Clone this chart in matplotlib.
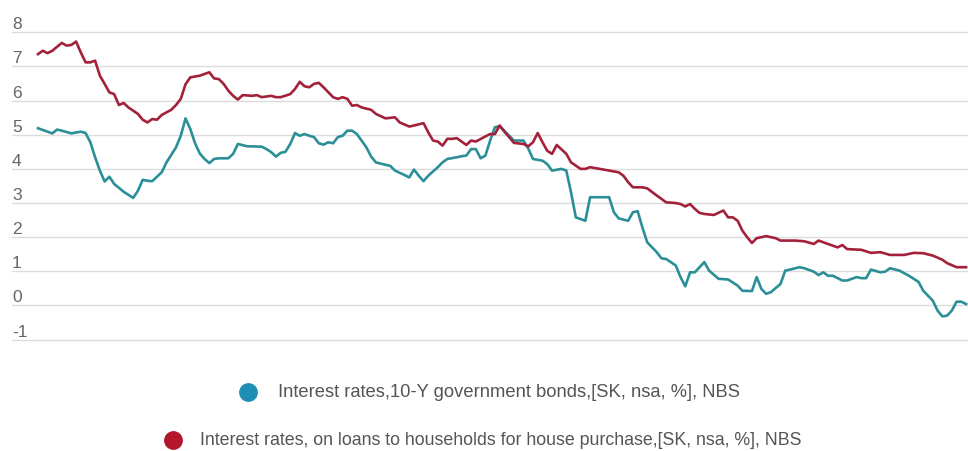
import matplotlib
matplotlib.use("Agg")
import matplotlib.pyplot as plt
import matplotlib.transforms as mtransforms
from matplotlib.lines import Line2D

plt.rcParams['font.family'] = ['Liberation Sans', 'DejaVu Sans']

# month index from the first observation (monthly data), values in %
bond_months = [0, 1, 3, 4, 5, 7, 9, 10, 11, 12, 13, 14, 15, 16, 18, 19, 20, 21, 22, 23,
               24, 26, 27, 29, 30, 31, 32, 33, 34, 35, 36, 37, 38, 40, 41, 42, 44, 45, 47,
               48, 49, 50, 51, 52, 53, 54, 55, 56, 57, 58, 59, 60, 61, 62, 63, 64, 65, 66,
               67, 69, 70, 71, 73, 74, 75, 77, 78, 79, 80, 81, 82, 84, 85, 86, 88, 89, 90,
               91, 92, 93, 94, 95, 96, 97, 99, 100, 102, 103, 104, 106, 107, 108, 110, 111,
               112, 113, 115, 116, 117, 120, 121, 122, 124, 125, 126, 127, 128, 130, 131,
               132, 134, 135, 136, 137, 138, 139, 140, 141, 143, 145, 147, 148, 150, 151,
               152, 153, 154, 156, 157, 158, 160, 161, 163, 164, 165, 166, 167, 169, 170,
               172, 173, 174, 175, 177, 178, 179, 181, 183, 185, 186, 188, 189, 190, 191,
               192, 193, 194, 195]
bond_rates = [5.19, 5.14, 5.04, 5.15, 5.12, 5.04, 5.09, 5.05, 4.78, 4.34, 3.95, 3.63, 3.77,
              3.56, 3.33, 3.24, 3.15, 3.36, 3.68, 3.65, 3.64, 3.90, 4.19, 4.63, 4.97, 5.48,
              5.17, 4.75, 4.45, 4.29, 4.17, 4.29, 4.31, 4.31, 4.44, 4.73, 4.66, 4.66, 4.65,
              4.58, 4.49, 4.36, 4.47, 4.50, 4.73, 5.05, 4.97, 5.02, 4.97, 4.93, 4.75, 4.71,
              4.78, 4.75, 4.93, 4.97, 5.12, 5.12, 5.02, 4.63, 4.36, 4.19, 4.12, 4.09, 3.95,
              3.82, 3.75, 3.98, 3.80, 3.64, 3.80, 4.05, 4.19, 4.29, 4.34, 4.37, 4.39, 4.58,
              4.58, 4.31, 4.39, 4.83, 5.22, 5.25, 4.97, 4.83, 4.83, 4.60, 4.29, 4.24, 4.14,
              3.95, 4.00, 3.95, 3.31, 2.58, 2.48, 3.17, 3.17, 3.17, 2.73, 2.55, 2.48, 2.73,
              2.76, 2.28, 1.85, 1.56, 1.38, 1.36, 1.17, 0.83, 0.56, 0.97, 0.97, 1.12, 1.27,
              1.02, 0.78, 0.76, 0.58, 0.43, 0.42, 0.83, 0.48, 0.34, 0.39, 0.63, 1.02, 1.05,
              1.12, 1.09, 0.99, 0.89, 0.97, 0.87, 0.87, 0.73, 0.73, 0.83, 0.80, 0.80, 1.05,
              0.97, 0.99, 1.09, 1.02, 0.87, 0.69, 0.43, 0.14, -0.15, -0.32, -0.30, -0.15,
              0.11, 0.11, 0.04]

loan_months = [0, 1, 2, 3, 5, 6, 7, 8, 9, 10, 11, 12, 13, 14, 15, 16, 17, 18, 19, 21, 22,
               23, 24, 25, 26, 28, 29, 30, 31, 32, 34, 35, 36, 37, 38, 39, 40, 41, 42, 43,
               45, 46, 47, 49, 50, 51, 53, 54, 55, 56, 57, 58, 59, 60, 62, 63, 64, 65, 66,
               67, 68, 70, 71, 73, 75, 76, 78, 79, 81, 82, 83, 84, 85, 86, 87, 88, 89, 90,
               91, 92, 94, 95, 96, 97, 98, 99, 100, 102, 103, 104, 105, 106, 107, 108, 109,
               111, 112, 114, 115, 116, 118, 120, 122, 123, 124, 125, 127, 128, 130, 132,
               134, 135, 136, 137, 138, 139, 140, 142, 144, 145, 146, 147, 148, 149, 150,
               151, 153, 155, 156, 159, 161, 163, 164, 166, 168, 169, 170, 173, 175, 177,
               179, 182, 184, 186, 188, 190, 191, 193, 195]
loan_rates = [7.36, 7.46, 7.39, 7.46, 7.69, 7.61, 7.63, 7.73, 7.41, 7.12, 7.12, 7.17, 6.73,
              6.49, 6.24, 6.19, 5.87, 5.93, 5.80, 5.61, 5.44, 5.36, 5.46, 5.44, 5.58, 5.73,
              5.87, 6.05, 6.48, 6.68, 6.73, 6.78, 6.83, 6.65, 6.63, 6.49, 6.29, 6.14, 6.03,
              6.16, 6.14, 6.16, 6.10, 6.14, 6.10, 6.10, 6.19, 6.34, 6.55, 6.42, 6.39, 6.49,
              6.52, 6.39, 6.10, 6.05, 6.10, 6.05, 5.85, 5.87, 5.80, 5.73, 5.61, 5.48, 5.51,
              5.36, 5.24, 5.27, 5.34, 5.07, 4.83, 4.80, 4.68, 4.88, 4.88, 4.90, 4.80, 4.70,
              4.83, 4.80, 4.95, 5.02, 5.02, 5.27, 5.09, 4.93, 4.76, 4.73, 4.66, 4.78, 5.05,
              4.78, 4.53, 4.44, 4.70, 4.44, 4.19, 4.00, 4.00, 4.05, 4.00, 3.95, 3.90, 3.80,
              3.61, 3.46, 3.46, 3.43, 3.22, 3.02, 3.00, 2.97, 2.90, 2.97, 2.83, 2.71, 2.68,
              2.65, 2.78, 2.58, 2.58, 2.48, 2.19, 2.00, 1.83, 1.97, 2.03, 1.97, 1.90, 1.90,
              1.88, 1.80, 1.90, 1.80, 1.70, 1.77, 1.65, 1.63, 1.54, 1.56, 1.48, 1.48, 1.54,
              1.53, 1.46, 1.34, 1.24, 1.12, 1.12]

y_ticks = [-1, 0, 1, 2, 3, 4, 5, 6, 7, 8]
labels = ["Interest rates,10-Y government bonds,[SK, nsa, %], NBS",
          "Interest rates, on loans to households for house purchase,[SK, nsa, %], NBS"]
line_colors = ['#2b8f98', '#a3213a']
dot_colors = ['#1d8fb3', '#b3162c']

W, H = 968, 452
fig = plt.figure(figsize=(W / 100, H / 100), dpi=100)
ax = fig.add_axes([12 / W, 1 - 344 / H, 956 / W, 314.1 / H])

ax.plot(bond_months, bond_rates, color=line_colors[0], lw=1.9, solid_joinstyle='round')
ax.plot(loan_months, loan_rates, color=line_colors[1], lw=1.9, solid_joinstyle='round')

ax.set_xlim(-5.46, 195.4)
ax.set_ylim(-1.1, 8.1)
for v in y_ticks:
    ax.axhline(v, color='#dcdcdc', lw=1.0, zorder=0)

for s in ax.spines.values():
    s.set_visible(False)
ax.set_xticks([])
ax.set_yticks([])

# y labels sit just above their grid line
trans = mtransforms.blended_transform_factory(fig.transFigure, ax.transData)
trans = mtransforms.offset_copy(trans, fig=fig, x=0, y=4, units='dots')
for v in y_ticks:
    ax.text(12 / W, v, str(v), transform=trans, ha='left', va='baseline',
            fontsize=12.5, color='#666666')

# legend, each item centred on its own row
fig.add_artist(Line2D([248 / W], [1 - 393 / H], marker='o', ms=12.5, ls='',
                      color=dot_colors[0], transform=fig.transFigure))
fig.text(278 / W, 1 - 393 / H, labels[0], ha='left', va='center',
         fontsize=13.2, color='#555555')
fig.add_artist(Line2D([173 / W], [1 - 441 / H], marker='o', ms=12.5, ls='',
                      color=dot_colors[1], transform=fig.transFigure))
fig.text(200 / W, 1 - 441 / H, labels[1], ha='left', va='center',
         fontsize=12.8, color='#555555')

fig.savefig('out.png', dpi=100, facecolor='white')
